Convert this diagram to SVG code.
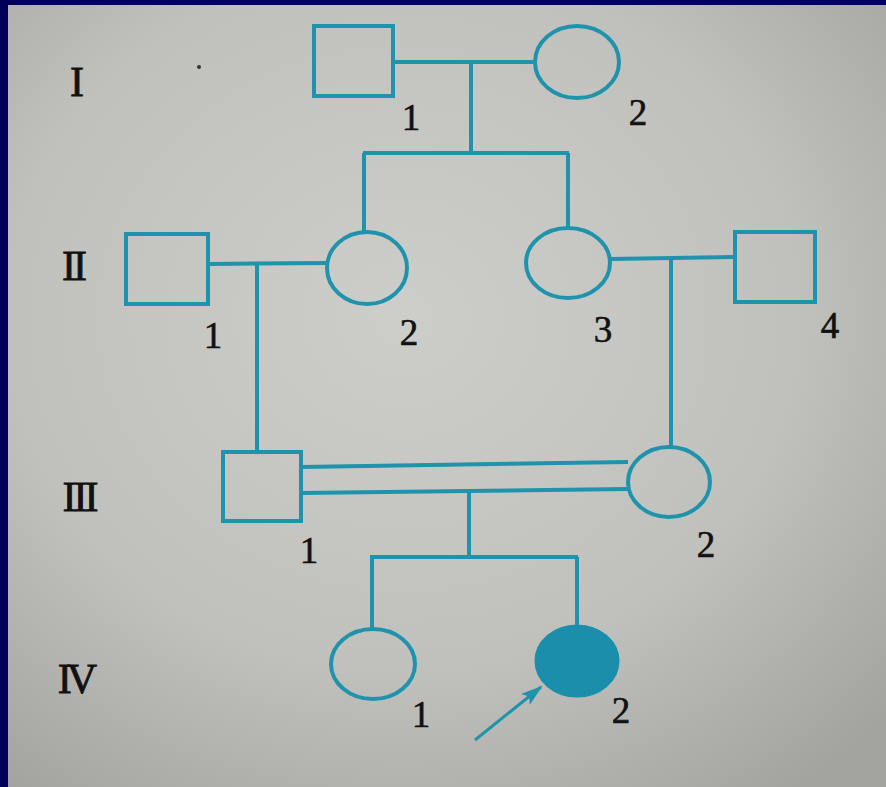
<svg xmlns="http://www.w3.org/2000/svg" width="886" height="787" viewBox="0 0 886 787">
<defs>
<radialGradient id="bg" cx="45%" cy="40%" r="75%">
<stop offset="0" stop-color="#cdcecA"/>
<stop offset="0.6" stop-color="#c0c1bd"/>
<stop offset="1" stop-color="#a3a4a0"/>
</radialGradient>
<marker id="ah" markerWidth="22" markerHeight="14" refX="20" refY="7" orient="auto" markerUnits="userSpaceOnUse" viewBox="0 0 22 14">
<path d="M0,0 L22,7 L0,14 L5,7 Z" fill="#1f93ab"/>
</marker>
<style>
.s{fill:none;stroke:#1f93ab;stroke-width:4}
.aff{fill:#1a8eab;stroke:#1a8eab;stroke-width:3}
.c{fill:none;stroke:#1f93ab;stroke-width:4}
.gen{font-family:"Liberation Serif",serif;font-size:42px;fill:#111;stroke:#111;stroke-width:0.8;text-anchor:middle}
.num{font-family:"Liberation Serif",serif;font-size:37px;fill:#111;stroke:#111;stroke-width:0.6;text-anchor:middle}
</style>
</defs>
<rect x="0" y="0" width="886" height="787" fill="#00005a"/>
<rect x="8" y="5" width="878" height="782" fill="url(#bg)"/>
<circle cx="199" cy="67" r="2" fill="#333"/>
<g id="labels">
<text class="gen" x="77" y="96">I</text>
<text class="gen" x="73" y="280" letter-spacing="-3">II</text>
<text class="gen" x="79" y="511" letter-spacing="-3">III</text>
<text class="gen" x="75" y="693" letter-spacing="-5">IV</text>
</g>
<g id="connectors">
<line class="c" x1="393" y1="62" x2="535" y2="62"/>
<line class="c" x1="471" y1="62" x2="471" y2="153"/>
<line class="c" x1="363" y1="153" x2="569" y2="153"/>
<line class="c" x1="364" y1="153" x2="364" y2="232"/>
<line class="c" x1="568" y1="153" x2="568" y2="228"/>
<line class="c" x1="208" y1="264" x2="327" y2="263"/>
<line class="c" x1="257" y1="264" x2="257" y2="451"/>
<line class="c" x1="610" y1="259" x2="734" y2="257"/>
<line class="c" x1="671" y1="258" x2="671" y2="447"/>
<line class="c" x1="301" y1="467" x2="628" y2="462"/>
<line class="c" x1="301" y1="493" x2="628" y2="489"/>
<line class="c" x1="469" y1="491" x2="469" y2="557"/>
<line class="c" x1="370" y1="557" x2="578" y2="557"/>
<line class="c" x1="372" y1="557" x2="372" y2="629"/>
<line class="c" x1="577" y1="557" x2="577" y2="625"/>
<line stroke="#1f93ab" stroke-width="3" x1="475" y1="740" x2="541" y2="687" marker-end="url(#ah)"/>
</g>
<g id="I-1"><rect class="s" x="314" y="26" width="79" height="70"/><text class="num" x="411" y="130">1</text></g>
<g id="I-2"><ellipse class="s" cx="577" cy="62" rx="42" ry="36"/><text class="num" x="638" y="125">2</text></g>
<g id="II-1"><rect class="s" x="126" y="234" width="82" height="70"/><text class="num" x="213" y="348">1</text></g>
<g id="II-2"><ellipse class="s" cx="367" cy="268" rx="40" ry="36"/><text class="num" x="409" y="345">2</text></g>
<g id="II-3"><ellipse class="s" cx="568" cy="263" rx="42" ry="35"/><text class="num" x="603" y="342">3</text></g>
<g id="II-4"><rect class="s" x="735" y="232" width="80" height="70"/><text class="num" x="830" y="338">4</text></g>
<g id="III-1"><rect class="s" x="223" y="452" width="78" height="69"/><text class="num" x="309" y="563">1</text></g>
<g id="III-2"><ellipse class="s" cx="669" cy="482" rx="41" ry="35"/><text class="num" x="706" y="557">2</text></g>
<g id="IV-1"><ellipse class="s" cx="373" cy="664" rx="42" ry="35"/><text class="num" x="421" y="727">1</text></g>
<g id="IV-2"><ellipse class="aff" cx="577" cy="661" rx="41" ry="35"/><text class="num" x="621" y="723">2</text></g>
</svg>
